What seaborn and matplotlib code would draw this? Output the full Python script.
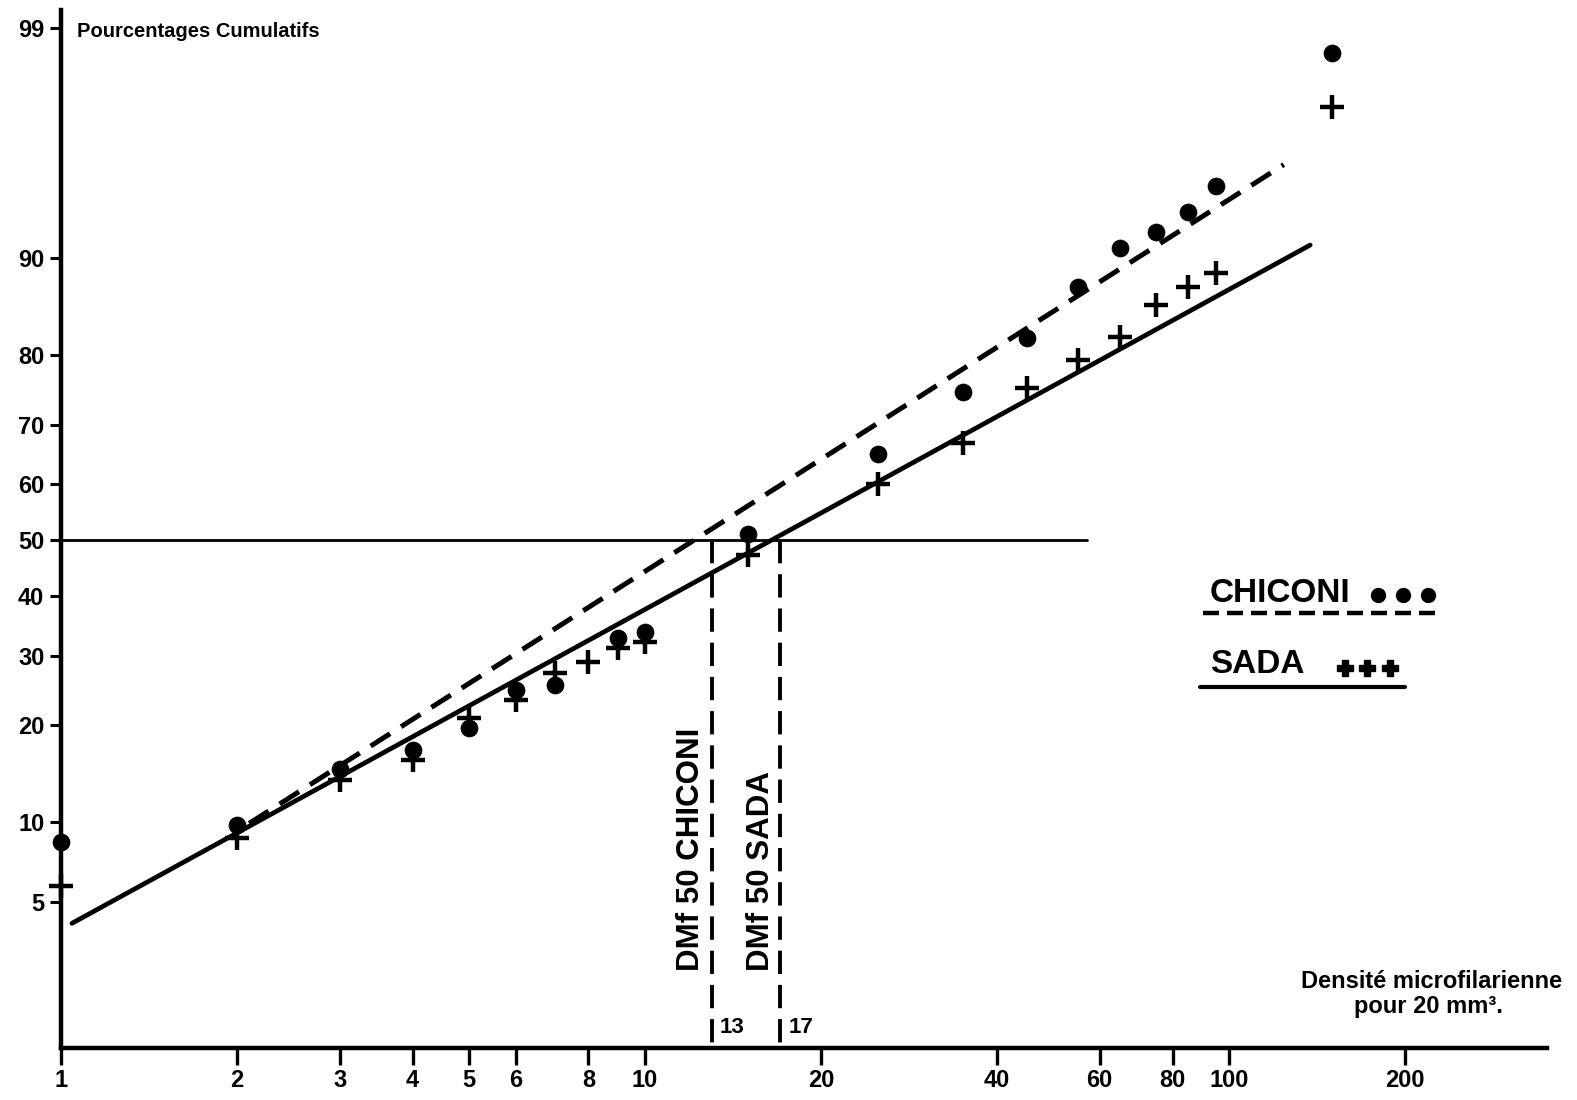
import numpy as np
import pandas as pd
import matplotlib
matplotlib.use("Agg")
import matplotlib.pyplot as plt
import seaborn as sns
from statistics import NormalDist
from matplotlib import font_manager

# ---------------- data ----------------
chiconi_x = [1, 2, 3, 4, 5, 6, 7, 9, 10, 15, 25, 35, 45, 55, 65, 75, 85, 95, 150]
chiconi_y = [8.5, 9.8, 14.9, 17.0, 19.6, 24.8, 25.5, 32.8, 33.8, 51.1, 65.3, 74.9,
             82.1, 87.5, 90.8, 91.9, 93.2, 94.6, 98.66]
sada_x = [1, 2, 3, 4, 5, 6, 7, 8, 9, 10, 15, 25, 35, 45, 55, 65, 75, 85, 95, 150]
sada_y = [5.8, 8.8, 13.8, 15.9, 20.9, 23.4, 27.3, 29.0, 31.2, 32.1, 47.3, 60.1, 67.0,
          75.5, 79.3, 82.2, 85.7, 87.5, 88.8, 97.55]

# fitted lines (end points)
chiconi_fit_x = [2.1, 124]
chiconi_fit_y = [9.9, 95.6]
sada_fit_x = [1.044, 137.6]
sada_fit_y = [4.08, 91.0]

# 50 % reference and DMf 50 values
ref_x = [1, 57]
ref_y = [50, 50]
dmf50_chiconi = 13
dmf50_sada = 17

xticks = [1, 2, 3, 4, 5, 6, 8, 10, 20, 40, 60, 80, 100, 200]
xtick_labels = ["1", "2", "3", "4", "5", "6", "8", "10", "20", "40", "60", "80", "100", "200"]
yticks = [5, 10, 20, 30, 40, 50, 60, 70, 80, 90, 99]
ytick_labels = ["5", "10", "20", "30", "40", "50", "60", "70", "80", "90", "99"]

# ---------------- style ----------------
sns.set_style("white")
names = {f.name for f in font_manager.fontManager.ttflist}
HAS_NARROW = "Liberation Sans Narrow" in names
COND = "Liberation Sans Narrow" if HAS_NARROW else "Liberation Sans"
plt.rcParams["font.family"] = ["Liberation Sans", "DejaVu Sans"]
plt.rcParams["text.color"] = "black"
plt.rcParams["axes.labelcolor"] = "black"

_nd = NormalDist()
_ppf = np.vectorize(lambda q: _nd.inv_cdf(q) if 0 < q < 1 else np.nan, otypes=[float])
_cdf = np.vectorize(lambda z: _nd.cdf(z) * 100.0, otypes=[float])


def fwd(p):
    p = np.asarray(p, dtype=float)
    q = np.clip(p / 100.0, 1e-9, 1 - 1e-9)
    return _ppf(q)


def inv(z):
    return _cdf(np.asarray(z, dtype=float))


fig = plt.figure(figsize=(15.77, 11.0), dpi=100)
ax = fig.add_axes([61 / 1577, 52 / 1100, 1486 / 1577, 1038 / 1100])
ax.set_xscale("log")
ax.set_yscale("function", functions=(fwd, inv))
ax.set_xlim(1, 350)
ax.set_ylim(1.05, 99.2)

# scatter points
sns.scatterplot(x=chiconi_x, y=chiconi_y, ax=ax, marker="o", s=150, color="black",
                edgecolor="black", linewidth=0.5, clip_on=False, zorder=5)
sns.scatterplot(x=sada_x, y=sada_y, ax=ax, marker="+", s=320, color="black",
                linewidth=3.2, clip_on=False, zorder=5)

# fitted lines
fit_c = pd.DataFrame({"x": chiconi_fit_x, "y": chiconi_fit_y})
fit_s = pd.DataFrame({"x": sada_fit_x, "y": sada_fit_y})
sns.lineplot(data=fit_c, x="x", y="y", ax=ax, color="black", lw=3.6,
             estimator=None, sort=False, dashes=False, linestyle=(0, (4.6, 2.6)))
sns.lineplot(data=fit_s, x="x", y="y", ax=ax, color="black", lw=3.4,
             estimator=None, sort=False)

# 50% line and DMf verticals
ax.plot(ref_x, ref_y, color="black", lw=2.0)
ax.plot([dmf50_chiconi, dmf50_chiconi], [50, 1.05], color="black", lw=2.8,
        linestyle=(0, (6.0, 2.8)))
ax.plot([dmf50_sada, dmf50_sada], [50, 1.05], color="black", lw=2.8,
        linestyle=(0, (6.0, 2.8)))

ax.text(12.0, 2.5, "DMf 50 CHICONI", rotation=90, ha="center", va="bottom",
        fontsize=22.5, fontweight="bold", color="black")
ax.text(15.8, 2.5, "DMf 50 SADA", rotation=90, ha="center", va="bottom",
        fontsize=22.5, fontweight="bold", color="black")
ax.text(13.4, 1.19, str(dmf50_chiconi), ha="left", va="bottom", fontsize=16,
        fontweight="bold", family=[COND, "DejaVu Sans"], color="black")
ax.text(17.6, 1.19, str(dmf50_sada), ha="left", va="bottom", fontsize=16,
        fontweight="bold", family=[COND, "DejaVu Sans"], color="black")

# spines / ticks
for s in ["top", "right"]:
    ax.spines[s].set_visible(False)
for s in ["left", "bottom"]:
    ax.spines[s].set_linewidth(3.2)
    ax.spines[s].set_color("black")

ax.set_xticks(xticks)
ax.set_xticklabels(xtick_labels)
ax.xaxis.set_minor_locator(matplotlib.ticker.NullLocator())
ax.set_yticks(yticks)
ax.set_yticklabels(ytick_labels)
ax.yaxis.set_minor_locator(matplotlib.ticker.NullLocator())
tick_size = 18 if HAS_NARROW else 17
ax.tick_params(axis="x", which="major", bottom=True, direction="out", length=12,
               width=2.4, pad=3, labelsize=tick_size, colors="black")
ax.tick_params(axis="y", which="major", left=True, direction="out", length=8,
               width=2.2, pad=4, labelsize=tick_size, colors="black")
for lab in ax.get_xticklabels() + ax.get_yticklabels():
    lab.set_fontweight("bold")
    lab.set_family([COND, "DejaVu Sans"])
ax.set_xlabel("")
ax.set_ylabel("")

# titles
ax.text(0.0108, 0.974, "Pourcentages Cumulatifs", transform=ax.transAxes,
        ha="left", va="baseline", fontsize=17 if HAS_NARROW else 14.5,
        fontweight="bold", family=[COND, "DejaVu Sans"], color="black")
ax.text(0.9226, 0.0575, "Densité microfilarienne", transform=ax.transAxes,
        ha="center", va="baseline", fontsize=17, fontweight="bold", color="black")
ax.text(0.9200, 0.0335, "pour 20 mm³.", transform=ax.transAxes,
        ha="center", va="baseline", fontsize=17, fontweight="bold", color="black")

# legend (hand-drawn as in the original)
ax.text(0.7732, 0.4297, "CHICONI", transform=ax.transAxes, ha="left",
        va="baseline", fontsize=24, fontweight="bold", color="black")
ax.plot([0.8863, 0.9031, 0.9199], [0.4364] * 3, transform=ax.transAxes,
        ls="none", marker="o", ms=10, color="black", clip_on=False)
ax.plot([0.7685, 0.9280], [0.4191, 0.4191], transform=ax.transAxes,
        color="black", lw=3.2, linestyle=(0, (3.6, 1.8)), clip_on=False)
ax.text(0.7732, 0.3613, "SADA", transform=ax.transAxes, ha="left",
        va="baseline", fontsize=24, fontweight="bold", color="black")
ax.plot([0.8641, 0.8789, 0.8944], [0.3661] * 3, transform=ax.transAxes,
        ls="none", marker="P", ms=11, color="black", clip_on=False)
ax.plot([0.7665, 0.9044], [0.3478, 0.3478], transform=ax.transAxes,
        color="black", lw=3.0, clip_on=False)

fig.savefig("out.png", dpi=100, facecolor="white")
